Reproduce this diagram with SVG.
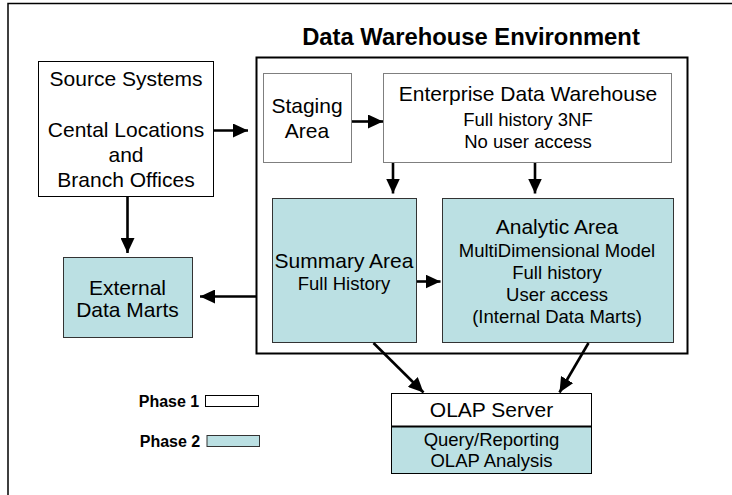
<svg xmlns="http://www.w3.org/2000/svg" width="732" height="495" viewBox="0 0 732 495">
<style>
text{font-family:"Liberation Sans",Arial,sans-serif;fill:#000;text-anchor:middle}
.big{font-size:21px}
.sm{font-size:18.5px}
.b{font-weight:bold}
.p1{fill:#fff;stroke:#000;stroke-width:1}
.p1g{fill:#fff;stroke:#7f7f7f;stroke-width:1}
.p2{fill:#bbe0e3;stroke:#333;stroke-width:1}
.con{stroke:#000;stroke-width:2.6;fill:none;marker-end:url(#ah)}
</style>
<defs>
<marker id="ah" markerUnits="userSpaceOnUse" markerWidth="16" markerHeight="14" viewBox="0 0 16 14" refX="15" refY="7" orient="auto">
<path d="M0,0 L15,7 L0,14 Z" fill="#000"/>
</marker>
</defs>
<rect width="732" height="495" fill="#fff"/>
<g id="frame">
<path d="M8,495 V3.5 H732" fill="none" stroke="#000" stroke-width="1.5"/>
</g>
<g id="dwe">
<rect x="256.5" y="57.5" width="431" height="296" fill="#fff" stroke="#000" stroke-width="2"/>
<text x="471" y="45" class="b" style="font-size:23.8px">Data Warehouse Environment</text>
</g>
<g id="source">
<rect class="p1" x="38.5" y="61.5" width="175" height="135"/>
<text class="big" x="126" y="86">Source Systems</text>
<text class="big" x="126" y="137">Cental Locations</text>
<text class="big" x="126" y="162">and</text>
<text class="big" x="126" y="187">Branch Offices</text>
</g>
<g id="staging">
<rect class="p1g" x="263.5" y="73.5" width="88" height="89"/>
<text class="big" x="307" y="113">Staging</text>
<text class="big" x="307" y="138">Area</text>
</g>
<g id="edw">
<rect class="p1g" x="383.5" y="73.5" width="288" height="89"/>
<text class="big" x="528" y="101">Enterprise Data Warehouse</text>
<text class="sm" x="528" y="126">Full history 3NF</text>
<text class="sm" x="528" y="148">No user access</text>
</g>
<g id="summary">
<rect class="p2" x="272.5" y="198.5" width="144" height="144"/>
<text class="big" x="344" y="268">Summary Area</text>
<text class="sm" x="344" y="290">Full History</text>
</g>
<g id="analytic">
<rect class="p2" x="442.5" y="198.5" width="231" height="144"/>
<text class="big" x="557" y="234">Analytic Area</text>
<text class="sm" x="557" y="256.5">MultiDimensional Model</text>
<text class="sm" x="557" y="278.5">Full history</text>
<text class="sm" x="557" y="301">User access</text>
<text class="sm" x="557" y="323">(Internal Data Marts)</text>
</g>
<g id="external">
<rect class="p2" x="63.5" y="257.5" width="129" height="80"/>
<text class="big" x="127.5" y="294.5">External</text>
<text class="big" x="127.5" y="316.5">Data Marts</text>
</g>
<g id="olap">
<rect x="392" y="427" width="200" height="46.5" fill="#bbe0e3"/>
<rect x="392" y="393.5" width="200" height="33" fill="#fff"/>
<rect x="391.5" y="393.5" width="200" height="80" fill="none" stroke="#000" stroke-width="1"/>
<line x1="391.5" y1="426.5" x2="591.5" y2="426.5" stroke="#000" stroke-width="2"/>
<text class="big" x="491.5" y="417">OLAP Server</text>
<text class="sm" x="491.5" y="446">Query/Reporting</text>
<text class="sm" x="491.5" y="466.5">OLAP Analysis</text>
</g>
<g id="legend">
<text x="169" y="406.5" class="b" style="font-size:16px">Phase 1</text>
<rect class="p1" x="205.5" y="395.5" width="53" height="11"/>
<text x="170" y="446.5" class="b" style="font-size:16px">Phase 2</text>
<rect class="p2" x="207" y="435.5" width="52.5" height="11"/>
</g>
<g id="connectors">
<line class="con" x1="214" y1="130.5" x2="248" y2="130.5"/>
<line class="con" x1="352" y1="121.5" x2="383" y2="121.5"/>
<line class="con" x1="127.5" y1="197" x2="127.5" y2="253"/>
<line class="con" x1="393" y1="163" x2="393" y2="193.5"/>
<line class="con" x1="535" y1="163" x2="535" y2="193.5"/>
<line class="con" x1="417" y1="281.5" x2="440.5" y2="281.5"/>
<line class="con" x1="256" y1="296.5" x2="200" y2="296.5"/>
<line class="con" x1="373.5" y1="343" x2="423.5" y2="392.5"/>
<line class="con" x1="588.5" y1="343" x2="559.5" y2="392.5"/>
</g>
</svg>
